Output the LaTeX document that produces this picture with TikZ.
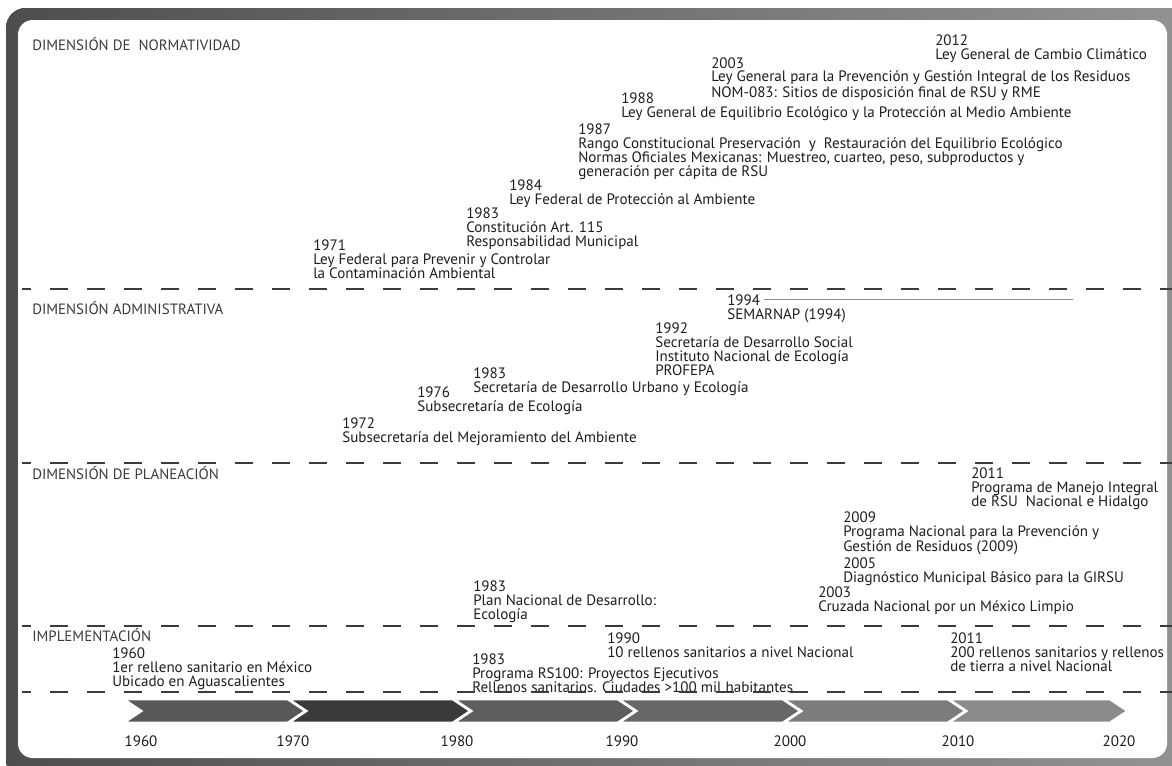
\documentclass[tikz,border=0pt]{standalone}
\usepackage{fontspec}
\setmainfont{PT Sans}
\definecolor{ink}{HTML}{1E1E1E}
\definecolor{labink}{HTML}{3A3A3A}
\definecolor{dashcol}{HTML}{3C3C3C}
\definecolor{frameL}{HTML}{4E4E4E}
\definecolor{frameR}{HTML}{939393}
\definecolor{rulecol}{HTML}{8A8A8A}
\definecolor{segA}{HTML}{585858}
\definecolor{segB}{HTML}{3A3A3A}
\definecolor{segC}{HTML}{5E5E5E}
\definecolor{segD}{HTML}{676767}
\definecolor{segE}{HTML}{7C7C7C}
\definecolor{segF}{HTML}{8B8B8B}
\newcommand\evsize{\fontsize{11.3}{10.5}\selectfont}
\newcommand\labsize{\fontsize{11.2}{10.5}\selectfont}
% one arrow segment of the time axis: left x, right x, colour
\newcommand\chevseg[3]{\fill[#3, draw=white, line width=2pt, line join=miter]
  (#1,699) -- (#2,699) -- ++(18,12) -- (#2,723) -- (#1,723) -- ++(18,-12) -- cycle;}
\begin{document}
\begin{tikzpicture}[x=0.75pt,y=-0.75pt,
  ev/.style={anchor=north west, inner sep=0pt, align=left, font=\evsize, text=ink},
  dimlab/.style={anchor=base west, inner sep=0pt, font=\labsize, text=labink},
  yearlab/.style={anchor=base, inner sep=0pt, font=\evsize, text=ink},
  divider/.style={draw=dashcol, line width=1.05pt, dash pattern=on 13.5pt off 14.25pt, dash phase=6.75pt},
  spanrule/.style={draw=rulecol, line width=0.9pt}]
\useasboundingbox (0,0) rectangle (1172,765);
\clip (0,0) rectangle (1172,765);

% frame
\fill[left color=frameL, right color=frameR, rounded corners=15pt] (6,8) rectangle (1190,780);
\fill[white, rounded corners=11pt] (18,20) rectangle (1167,758);

% section titles
\node[dimlab] (dimNorm) at (32,50) {DIMENSIÓN DE\ \ NORMATIVIDAD};
\node[dimlab] (dimAdm) at (32,314) {DIMENSIÓN ADMINISTRATIVA};
\node[dimlab] (dimPlan) at (32,479) {DIMENSIÓN DE PLANEACIÓN};
\node[dimlab] (dimImp) at (32,641) {IMPLEMENTACIÓN};

% normatividad
\node[ev] (n1971) at (313,239) {1971\\Ley Federal para Prevenir y Controlar\\la Contaminación Ambiental};
\node[ev] (n1983) at (466,207) {1983\\Constitución Art. 115\\Responsabilidad Municipal};
\node[ev] (n1984) at (509,179) {1984\\Ley Federal de Protección al Ambiente};
\node[ev] (n1987) at (578,123) {1987\\Rango Constitucional Preservación\ \ y\ \ Restauración del Equilibrio Ecológico\\Normas Oficiales Mexicanas: Muestreo, cuarteo, peso, subproductos y\\generación per cápita de RSU};
\node[ev] (n1988) at (621,92) {1988\\Ley General de Equilibrio Ecológico y la Protección al Medio Ambiente};
\node[ev] (n2003) at (711,57) {2003\\Ley General para la Prevención y Gestión Integral de los Residuos\\NOM-083: Sitios de disposición final de RSU y RME};
\node[ev] (n2012) at (935,35) {2012\\Ley General de Cambio Climático};

% administrativa
\node[ev] (a1972) at (342,417) {1972\\Subsecretaría del Mejoramiento del Ambiente};
\node[ev] (a1976) at (417,386) {1976\\Subsecretaría de Ecología};
\node[ev] (a1983) at (473,367) {1983\\Secretaría de Desarrollo Urbano y Ecología};
\node[ev] (a1992) at (655,322) {1992\\Secretaría de Desarrollo Social\\Instituto Nacional de Ecología\\PROFEPA};
\node[ev] (a1994) at (727,294) {1994};
\node[ev] (a1994t) at (727,308) {SEMARNAP (1994)};
\coordinate (semEnd) at (1073,299);
\draw[spanrule] ([xshift=3pt]a1994.east) -- (a1994.east -| semEnd);

% planeacion
\node[ev] (p1983) at (473,580) {1983\\Plan Nacional de Desarrollo:\\Ecología};
\node[ev] (p2003) at (818,586) {2003\\Cruzada Nacional por un México Limpio};
\node[ev] (p2005) at (843,557) {2005\\Diagnóstico Municipal Básico para la GIRSU};
\node[ev] (p2009) at (843,511) {2009\\Programa Nacional para la Prevención y\\Gestión de Residuos (2009)};
\node[ev] (p2011) at (971,467) {2011\\Programa de Manejo Integral\\de RSU\ \ Nacional e Hidalgo};

% implementacion
\node[ev] (i1960) at (112,647) {1960\\1er relleno sanitario en México\\Ubicado en Aguascalientes};
\node[ev] (i1983) at (472,653) {1983\\Programa RS100: Proyectos Ejecutivos\\Rellenos sanitarios. Ciudades >100 mil habitantes};
\node[ev] (i1990) at (607,632) {1990\\10 rellenos sanitarios a nivel Nacional};
\node[ev] (i2011) at (950,632) {2011\\200 rellenos sanitarios y rellenos\\de tierra a nivel Nacional};

% section dividers
\draw[divider] (22,289) -- (1172,289);
\draw[divider] (22,463) -- (1172,463);
\draw[divider] (22,626) -- (1172,626);
\draw[divider] (22,692) -- (1172,692);

% time axis
\chevseg{123}{288}{segA}
\chevseg{288}{453}{segB}
\chevseg{453}{618}{segC}
\chevseg{618}{783}{segD}
\chevseg{783}{948}{segE}
\chevseg{948}{1110}{segF}

\node[yearlab] (t1960) at (141,746) {1960};
\node[yearlab] (t1970) at (293,746) {1970};
\node[yearlab] (t1980) at (457,746) {1980};
\node[yearlab] (t1990) at (622,746) {1990};
\node[yearlab] (t2000) at (790,746) {2000};
\node[yearlab] (t2010) at (958,746) {2010};
\node[yearlab] (t2020) at (1119,746) {2020};
\end{tikzpicture}
\end{document}
